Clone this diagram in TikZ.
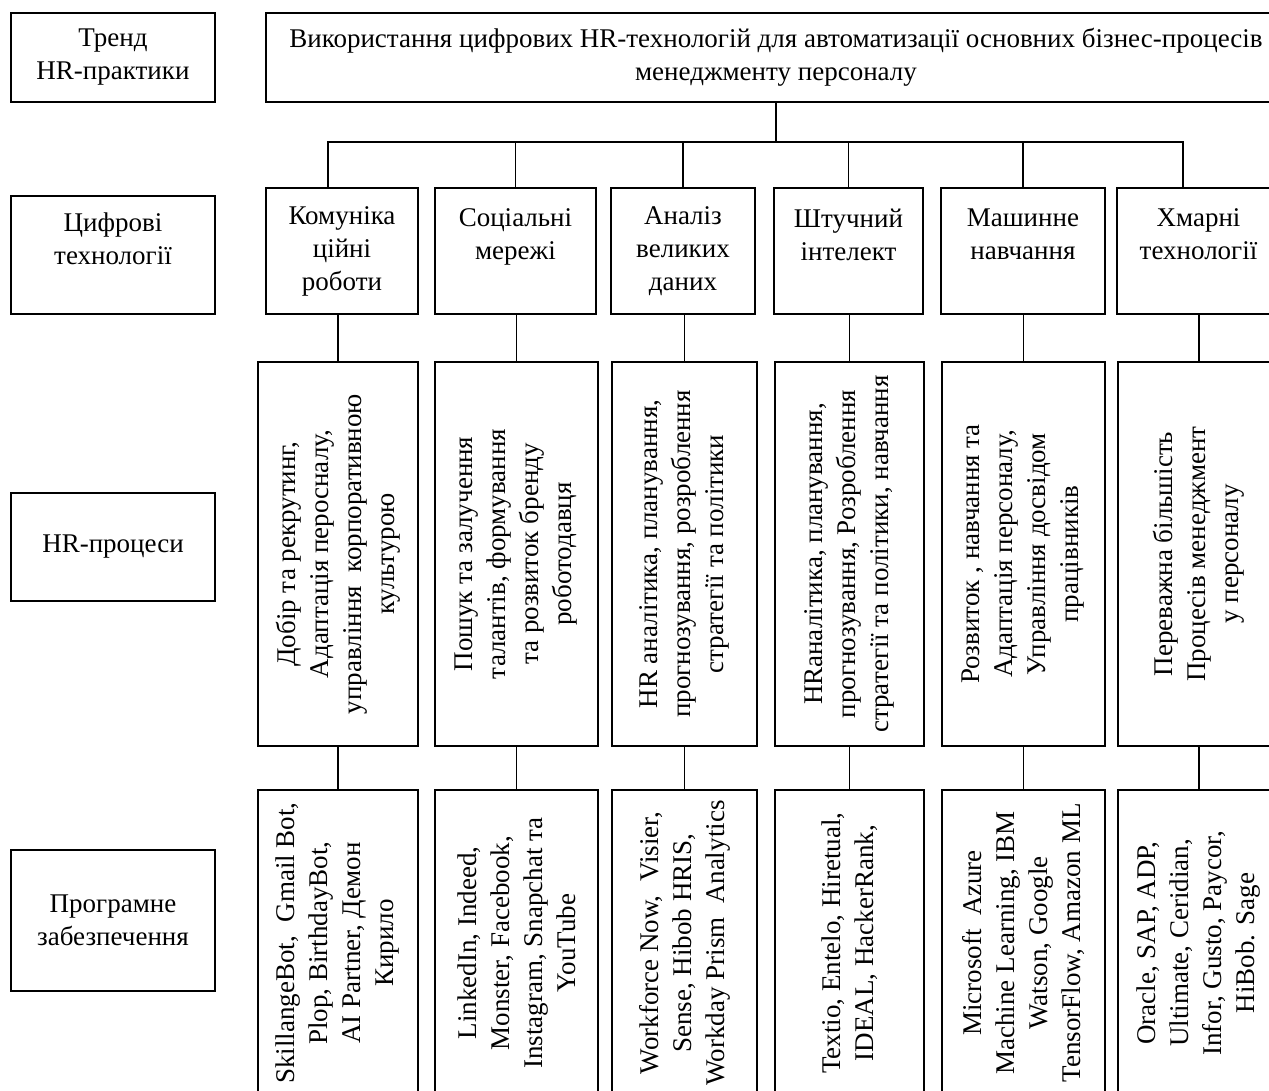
\documentclass[tikz,border=0pt]{standalone}
\usepackage{fontspec}
\setmainfont{Liberation Serif}

\begin{document}
\begin{tikzpicture}[
  x=0.5pt, y=-0.5pt,
  every node/.style={font=\fontsize{13.5}{16.5}\selectfont},
  lbl/.style={draw, line width=0.7pt, align=center, minimum width=102pt, inner sep=2pt},
  head/.style={draw, line width=0.7pt, align=center, minimum height=44.5pt, inner sep=2pt},
  tech/.style={draw, line width=0.7pt, align=center, minimum height=63pt, inner sep=2pt},
  proc/.style={draw, line width=0.7pt, align=center, rotate=90, minimum width=192pt, inner sep=2pt},
  soft/.style={draw, line width=0.7pt, align=center, rotate=90, minimum width=153pt, inner sep=2pt},
  link/.style={line width=0.7pt}
]
\useasboundingbox (0,0) rectangle (1269,1091);

% Рівні схеми
\node[lbl, minimum height=44.5pt] (trend)   at (113,57.5)  {Тренд\\HR-практики};
\node[lbl, minimum height=59pt]   (lbltech) at (113,255)   {Цифрові\\технології\\~};
\node[lbl, minimum height=54pt]   (lblproc) at (113,547)   {HR-процеси};
\node[lbl, minimum height=70.5pt] (lblsoft) at (113,920.5) {Програмне\\забезпечення};

% Тренд
\node[head, minimum width=510pt] (top) at (776,57.5)
  {Використання цифрових HR-технологій для автоматизації основних бізнес-процесів\\менеджменту персоналу};

% Цифрові технології
\node[tech, minimum width=76pt]   (comm)  at (342,251)    {Комуніка\\ційні\\роботи};
\node[tech, minimum width=80.5pt] (soc)   at (515.5,251)  {Соціальні\\мережі\\~};
\node[tech, minimum width=72pt]   (data)  at (683,251)    {Аналіз\\великих\\даних};
\node[tech, minimum width=74.5pt] (ai)    at (848.5,251)  {Штучний\\інтелект\\~};
\node[tech, minimum width=82pt]   (ml)    at (1023,251)   {Машинне\\навчання\\~};
\node[tech, minimum width=81.5pt] (cloud) at (1198.5,251) {Хмарні\\технології\\~};

% HR-процеси
\node[proc, minimum height=80pt]   (pcomm)  at (338,554)
  {Добір та рекрутинг,\\Адаптація перосналу,\\управління\ \ корпоративною\\культурою};
\node[proc, minimum height=81.5pt] (psoc)   at (516.5,554)
  {Пошук та залучення\\талантів, формування\\та розвиток бренду\\роботодавця};
\node[proc, minimum height=72.5pt] (pdata)  at (684.5,554)
  {HR аналітика, планування,\\прогнозування, розроблення\\стратегії та політики};
\node[proc, minimum height=74.5pt] (pai)    at (849.5,554)
  {HRаналітика, планування,\\прогнозування, Розроблення\\стратегії та політики, навчання};
\node[proc, minimum height=81.5pt] (pml)    at (1023.5,554)
  {Розвиток , навчання та\\Адаптація персоналу,\\Управління досвідом\\працівників};
\node[proc, minimum height=81pt]   (pcloud) at (1199,554)
  {Переважна більшість\\Процесів менеджмент\\у персоналу};

% Програмне забезпечення
\node[soft, minimum height=80pt]   (scomm)  at (338,943)
  {SkillangeBot,\ \ Gmail Bot,\\Plop, BirthdayBot,\\AI Partner, Демон\\Кирило};
\node[soft, minimum height=81.5pt] (ssoc)   at (516.5,943)
  {LinkedIn, Indeed,\\Monster, Facebook,\\Instagram, Snapchat та\\YouTube};
\node[soft, minimum height=72.5pt] (sdata)  at (684.5,943)
  {Workforce Now,\ \ Visier,\\Sense, Hibob HRIS,\\Workday Prism\ \ Analytics};
\node[soft, minimum height=74.5pt] (sai)    at (849.5,943)
  {Textio, Entelo, Hiretual,\\IDEAL, HackerRank,};
\node[soft, minimum height=81.5pt] (sml)    at (1023.5,943)
  {Microsoft\ \ Azure\\Machine Learning, IBM\\Watson, Google\\TensorFlow, Amazon ML};
\node[soft, minimum height=81pt]   (scloud) at (1199,943)
  {Oracle, SAP, ADP,\\Ultimate, Ceridian,\\Infor, Gusto, Paycor,\\HiBob. Sage};

% Зв'язки
\coordinate (bar) at (775,142);
\draw[link] (top.south) -- (top.south |- bar);
\draw[link] ([xshift=-7pt]comm.north) |- (bar) -| ([xshift=-7.75pt]cloud.north);
\draw[link] (soc.north) -- (soc.north |- bar);
\draw[link] (data.north) -- (data.north |- bar);
\draw[link] (ai.north) -- (ai.north |- bar);
\draw[link] (ml.north) -- (ml.north |- bar);

\draw[link] (pcomm.east) -- (pcomm.east |- comm.south);
\draw[link] (psoc.east) -- (psoc.east |- soc.south);
\draw[link] (pdata.east) -- (pdata.east |- data.south);
\draw[link] (pai.east) -- (pai.east |- ai.south);
\draw[link] (pml.east) -- (pml.east |- ml.south);
\draw[link] (pcloud.east) -- (pcloud.east |- cloud.south);

\draw[link] (pcomm.west) -- (scomm.east);
\draw[link] (psoc.west) -- (ssoc.east);
\draw[link] (pdata.west) -- (sdata.east);
\draw[link] (pai.west) -- (sai.east);
\draw[link] (pml.west) -- (sml.east);
\draw[link] (pcloud.west) -- (scloud.east);
\end{tikzpicture}
\end{document}
